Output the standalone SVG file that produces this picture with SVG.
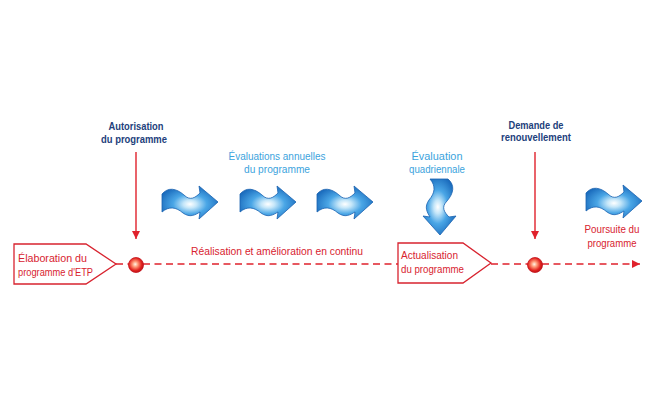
<svg xmlns="http://www.w3.org/2000/svg" width="655" height="400" viewBox="0 0 655 400">
<style>
.navy{font-family:"Liberation Sans",Arial,sans-serif;font-size:11.5px;font-weight:bold;fill:#233f7c;text-anchor:middle}
.light{font-family:"Liberation Sans",Arial,sans-serif;font-size:11.5px;fill:#3ba3dd;text-anchor:middle}
.red{font-family:"Liberation Sans",Arial,sans-serif;font-size:11.5px;fill:#d8232f}
.redc{font-family:"Liberation Sans",Arial,sans-serif;font-size:11.5px;fill:#d8232f;text-anchor:middle}
.box{fill:#ffffff;stroke:#d8232f;stroke-width:1.3}
.dash{stroke:#e0222c;stroke-width:1.5;stroke-dasharray:7 4.5;fill:none}
.vline{stroke:#e0222c;stroke-width:1.4;fill:none}
.wave{fill:url(#waveGrad);stroke:#1a62b0;stroke-width:0.8}
.dot{fill:url(#dotGrad);stroke:#c4121c;stroke-width:0.8}
</style>
<defs>
<radialGradient id="waveGrad" cx="0.5" cy="0.55" r="0.6">
<stop offset="0" stop-color="#ffffff"/>
<stop offset="0.2" stop-color="#c4e6f9"/>
<stop offset="0.5" stop-color="#4aa6e6"/>
<stop offset="1" stop-color="#1565b8"/>
</radialGradient>
<radialGradient id="dotGrad" cx="0.45" cy="0.45" r="0.6">
<stop offset="0" stop-color="#fff4e6"/>
<stop offset="0.3" stop-color="#ff9a78"/>
<stop offset="0.7" stop-color="#e2231f"/>
<stop offset="1" stop-color="#b01018"/>
</radialGradient>
<path id="wavearrow" d="M0,8 C6,1 14,2 22,9 C28,15 33,12 38,7 L37,0 L56,16 L37,33 L38,26 C33,29 28,32 21,27 C14,21 7,20 0,26 Z"/>
<marker id="triBig" viewBox="0 0 10 10" refX="10" refY="5" markerWidth="8" markerHeight="8" markerUnits="userSpaceOnUse" orient="auto">
<path d="M0,0 L10,5 L0,10 Z" fill="#e0222c"/>
</marker>
</defs>

<g id="connectors">
<line class="dash" x1="116" y1="264" x2="129" y2="264"/>
<line class="dash" x1="143" y1="264" x2="398" y2="264"/>
<line class="dash" x1="491" y1="264" x2="528" y2="264"/>
<line class="dash" x1="542" y1="264" x2="632" y2="264"/>
<line class="vline" x1="632" y1="264" x2="640" y2="264" marker-end="url(#triBig)"/>
<line class="vline" x1="136" y1="152" x2="136" y2="239" marker-end="url(#triBig)"/>
<line class="vline" x1="535" y1="152" x2="535" y2="239" marker-end="url(#triBig)"/>
</g>

<g id="autorisation">
<text class="navy" x="136" y="130" textLength="55" lengthAdjust="spacingAndGlyphs">Autorisation</text>
<text class="navy" x="134" y="143" textLength="66" lengthAdjust="spacingAndGlyphs">du programme</text>
</g>

<g id="elaboration">
<path class="box" d="M14,244 L86,244 L116,264 L86,284 L14,284 Z"/>
<text class="red" x="18" y="262" textLength="69" lengthAdjust="spacingAndGlyphs">Élaboration du</text>
<text class="red" x="18" y="276" textLength="75" lengthAdjust="spacingAndGlyphs">programme d'ETP</text>
</g>

<g id="point-autorisation">
<circle class="dot" cx="136" cy="265" r="7.5"/>
</g>

<g id="evaluations-annuelles">
<text class="light" x="277" y="160" textLength="97" lengthAdjust="spacingAndGlyphs">Évaluations annuelles</text>
<text class="light" x="277" y="173" textLength="66" lengthAdjust="spacingAndGlyphs">du programme</text>
<use href="#wavearrow" class="wave" transform="translate(162,186)"/>
<use href="#wavearrow" class="wave" transform="translate(240,186)"/>
<use href="#wavearrow" class="wave" transform="translate(317,186)"/>
</g>

<g id="realisation">
<text class="redc" x="277" y="255" textLength="172" lengthAdjust="spacingAndGlyphs">Réalisation et amélioration en continu</text>
</g>

<g id="evaluation-quadriennale">
<text class="light" x="437" y="160" textLength="51" lengthAdjust="spacingAndGlyphs">Évaluation</text>
<text class="light" x="437" y="173" textLength="56" lengthAdjust="spacingAndGlyphs">quadriennale</text>
<use href="#wavearrow" class="wave" transform="translate(456,179) rotate(90)"/>
</g>

<g id="actualisation">
<path class="box" d="M398,243 L463,243 L491,263 L463,283 L398,283 Z"/>
<text class="red" x="401" y="259" textLength="57" lengthAdjust="spacingAndGlyphs">Actualisation</text>
<text class="red" x="401" y="273" textLength="63" lengthAdjust="spacingAndGlyphs">du programme</text>
</g>

<g id="demande">
<text class="navy" x="536" y="129" textLength="55" lengthAdjust="spacingAndGlyphs">Demande de</text>
<text class="navy" x="536" y="141" textLength="70" lengthAdjust="spacingAndGlyphs">renouvellement</text>
</g>

<g id="point-demande">
<circle class="dot" cx="535" cy="265" r="7.5"/>
</g>

<g id="poursuite">
<use href="#wavearrow" class="wave" transform="translate(586,185)"/>
<text class="redc" x="612" y="233" textLength="55" lengthAdjust="spacingAndGlyphs">Poursuite du</text>
<text class="redc" x="612" y="247" textLength="49" lengthAdjust="spacingAndGlyphs">programme</text>
</g>
</svg>
